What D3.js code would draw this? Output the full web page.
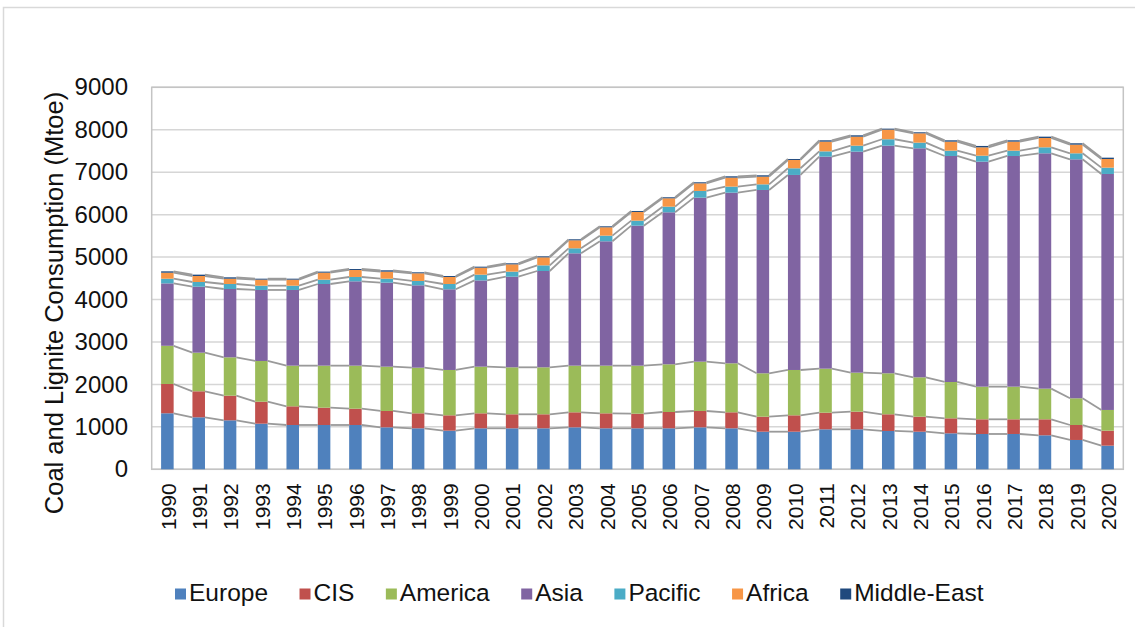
<!DOCTYPE html>
<html>
<head>
<meta charset="utf-8">
<script src="https://cdn.jsdelivr.net/npm/d3@7"></script>
<style>
  html, body { margin: 0; padding: 0; background: #fff; }
  svg { display: block; font-family: "Liberation Sans", Arial, sans-serif; }
</style>
</head>
<body>
<svg id="chart" width="1135" height="627"></svg>
<script>
// ---- data (Mtoe) ----
const years = ["1990","1991","1992","1993","1994","1995","1996","1997","1998","1999",
               "2000","2001","2002","2003","2004","2005","2006","2007","2008","2009",
               "2010","2011","2012","2013","2014","2015","2016","2017","2018","2019","2020"];
const seriesNames = ["Europe","CIS","America","Asia","Pacific","Africa","Middle-East"];
const seriesColors = ["#4F81BD","#C0504D","#9BBB59","#8064A2","#4BACC6","#F79646","#1F497D"];

const europe  = [1320,1225,1154,1075,1044,1044,1044,989,966,910,966,966,966,989,966,966,966,989,966,886,886,942,942,903,886,848,832,832,801,691,557];
const cis     = [690,613,581,518,440,408,384,385,353,362,353,330,330,354,353,344,384,385,377,354,386,392,416,393,354,353,346,346,377,353,353];
const america = [900,910,903,959,958,990,1014,1044,1075,1068,1099,1107,1107,1099,1123,1132,1124,1162,1154,1022,1068,1037,919,966,927,856,769,769,722,629,488];
const asia    = [1470,1554,1610,1673,1783,1924,1987,1979,1941,1901,2032,2135,2269,2647,2930,3298,3581,3864,4021,4319,4595,4995,5207,5363,5396,5325,5301,5435,5545,5630,5560];
const pacific = [110,111,118,101,101,102,102,94,102,125,136,119,133,118,133,118,133,158,142,133,157,125,141,151,133,125,141,125,141,142,149];
const africa  = [142,141,125,142,142,165,165,166,181,165,164,172,189,188,197,205,197,180,212,181,196,229,212,227,220,213,197,213,220,204,204];
const mideast = [32,32,32,23,23,24,23,31,23,23,24,24,23,24,23,23,24,24,31,32,23,31,32,23,24,31,32,31,31,32,31];
const yTicks  = [0,1000,2000,3000,4000,5000,6000,7000,8000,9000];

const seriesValues = [europe, cis, america, asia, pacific, africa, mideast];

// ---- layout ----
const svg = d3.select("#chart");
const plot = { left: 151.7, right: 1123.3, top: 87.3, bottom: 469.3 };

const rows = years.map((y, i) => {
  const r = { year: y };
  seriesNames.forEach((s, k) => r[s] = seriesValues[k][i]);
  return r;
});
const stacked = d3.stack().keys(seriesNames)(rows);

const x = d3.scaleBand().domain(years).range([plot.left, plot.right]).paddingInner(0.6).paddingOuter(0.3);
const y = d3.scaleLinear().domain([0, 9000]).range([plot.bottom, plot.top]);

// outer chart frame
svg.append("rect").attr("x", 3.5).attr("y", 7.5).attr("width", 1150).attr("height", 650)
  .attr("fill", "#fff").attr("stroke", "#d9d9d9").attr("stroke-width", 1.5);

// gridlines
svg.append("g").selectAll("line").data(yTicks).join("line")
  .attr("x1", plot.left).attr("x2", plot.right)
  .attr("y1", d => y(d)).attr("y2", d => y(d))
  .attr("stroke", "#d6d6d6").attr("stroke-width", 1.5);

// plot border
svg.append("rect").attr("x", plot.left).attr("y", plot.top)
  .attr("width", plot.right - plot.left).attr("height", plot.bottom - plot.top)
  .attr("fill", "none").attr("stroke", "#c4c4c4").attr("stroke-width", 1.5);

// bars
svg.append("g").selectAll("g").data(stacked).join("g")
  .attr("fill", (d, k) => seriesColors[k])
  .selectAll("rect").data(d => d).join("rect")
  .attr("x", d => x(d.data.year))
  .attr("width", x.bandwidth())
  .attr("y", d => y(d[1]))
  .attr("height", d => y(d[0]) - y(d[1]));

// series lines (connect top of each segment between adjacent bars)
const lineG = svg.append("g").attr("stroke", "#9a9a9a").attr("stroke-width", 1.8).attr("fill", "none");
stacked.forEach(layer => {
  for (let i = 0; i < layer.length - 1; i++) {
    const a = layer[i], b = layer[i + 1];
    lineG.append("line")
      .attr("x1", x(a.data.year) + x.bandwidth()).attr("y1", y(a[1]))
      .attr("x2", x(b.data.year)).attr("y2", y(b[1]));
  }
});

// y axis labels
const yAxis = d3.axisLeft(y).tickValues(yTicks).tickSize(0).tickPadding(0).tickFormat(d3.format("d"));
const yg = svg.append("g").attr("transform", `translate(128,0)`).call(yAxis);
yg.select(".domain").remove();
yg.selectAll("text").attr("font-size", 24).attr("fill", "#111").attr("font-family", "Liberation Sans, Arial, sans-serif");

// x axis labels (rotated)
const xAxis = d3.axisBottom(x).tickSize(0).tickPadding(0);
const xg = svg.append("g").attr("transform", `translate(0,${plot.bottom})`).call(xAxis);
xg.select(".domain").remove();
xg.selectAll("text")
  .attr("font-size", 21).attr("fill", "#111").attr("font-family", "Liberation Sans, Arial, sans-serif")
  .attr("text-anchor", "end")
  .attr("transform", "translate(1,14) rotate(-90)")
  .attr("x", 0).attr("y", 0).attr("dy", "0.35em");

// y title
svg.append("text")
  .attr("transform", "translate(63,303) rotate(-90)")
  .attr("text-anchor", "middle")
  .attr("font-size", 25.5).attr("fill", "#111")
  .text("Coal and Lignite Consumption (Mtoe)");

// legend
const legend = svg.append("g");
let lx = 175;
seriesNames.forEach((name, k) => {
  legend.append("rect").attr("x", lx).attr("y", 588.5).attr("width", 11).attr("height", 11).attr("fill", seriesColors[k]);
  const t = legend.append("text").attr("x", lx + 14).attr("y", 600.5)
    .attr("font-size", 24.5).attr("fill", "#111").text(name);
  lx += 14 + t.node().getComputedTextLength() + 31.5;
});
</script>
</body>
</html>
